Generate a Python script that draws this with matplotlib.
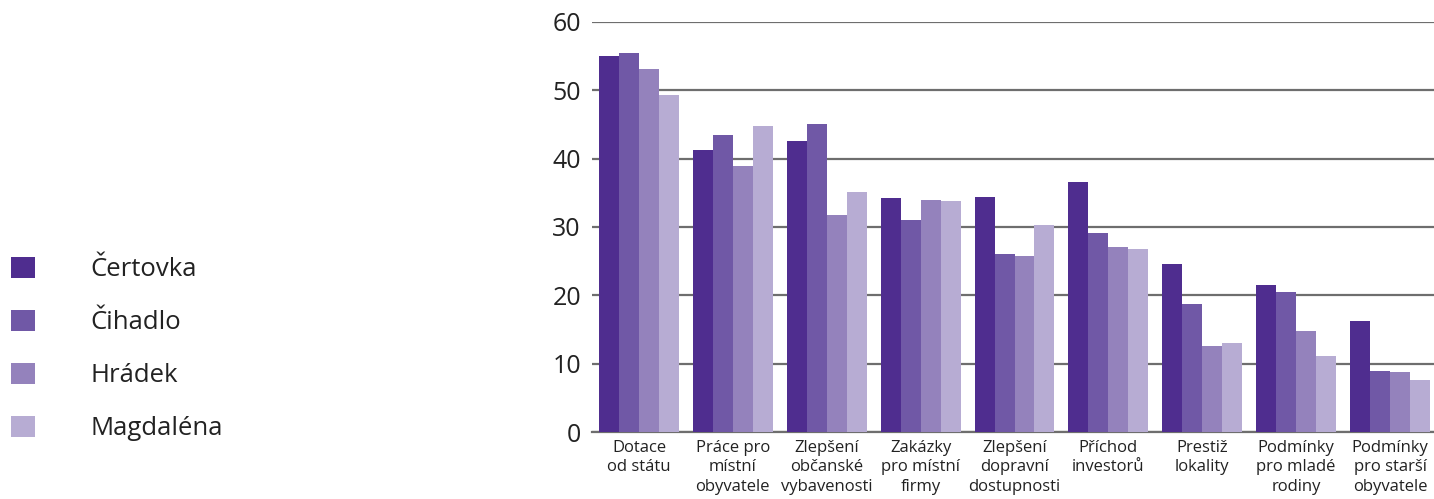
import numpy as np
import matplotlib.pyplot as plt

categories = ["Dotace\nod státu", "Práce pro\nmístní\nobyvatele", "Zlepšení\nobčanské\nvybavenosti",
              "Zakázky\npro místní\nfirmy", "Zlepšení\ndopravní\ndostupnosti", "Příchod\ninvestorů",
              "Prestiž\nlokality", "Podmínky\npro mladé\nrodiny", "Podmínky\npro starší\nobyvatele"]
certovka = [55.0, 41.3, 42.6, 34.2, 34.4, 36.6, 24.6, 21.5, 16.2]
cihadlo = [55.5, 43.5, 45.1, 31.0, 26.0, 29.1, 18.7, 20.5, 8.9]
hradek = [53.1, 38.9, 31.8, 34.0, 25.8, 27.1, 12.6, 14.8, 8.8]
magdalena = [49.3, 44.8, 35.1, 33.8, 30.3, 26.8, 13.0, 11.1, 7.6]
series = ["Čertovka", "Čihadlo", "Hrádek", "Magdaléna"]
colors = ["#4F2D8F", "#7058A6", "#9482BC", "#B7ACD3"]

plt.rcParams['font.family'] = ['Open Sans', 'DejaVu Sans']

fig = plt.figure(figsize=(14.34, 4.99), dpi=100)
W, H = 1434, 499
ax = fig.add_axes([592 / W, 1 - 432 / H, 845 / W, 410 / H])

x = np.arange(len(categories))
bw = 0.213
handles = []
for i, (vals, name) in enumerate(zip([certovka, cihadlo, hradek, magdalena], series)):
    b = ax.bar(x + (i - 1.5) * bw, vals, width=bw, color=colors[i], label=name, zorder=3)
    handles.append(b)

ax.set_xlim(-0.5, len(categories) - 0.5)
ax.set_ylim(0, 60)
ax.set_yticks(range(0, 61, 10))
ax.yaxis.grid(True, color='#6E6E6E', linewidth=1.6, zorder=0)
ax.set_axisbelow(True)
for s in ['left', 'right', 'top']:
    ax.spines[s].set_visible(False)
ax.spines['bottom'].set_color('#6E6E6E')
ax.spines['bottom'].set_linewidth(1.6)
ax.tick_params(axis='y', length=0, pad=8, labelsize=18, labelcolor='#222222')
ax.tick_params(axis='x', length=0, pad=5.5)
ax.set_xticks(x)
ax.set_xticklabels(categories, fontsize=12, linespacing=1.3, color='#222222')

fig.legend(handles=handles, labels=series, loc='center left', bbox_to_anchor=(1 / W, 1 - 349 / H),
           frameon=False, fontsize=18.5, handlelength=0.93, handleheight=0.93,
           handletextpad=2.14, labelspacing=1.06, borderaxespad=0, labelcolor='#222222')

fig.savefig("out.png", dpi=100)
